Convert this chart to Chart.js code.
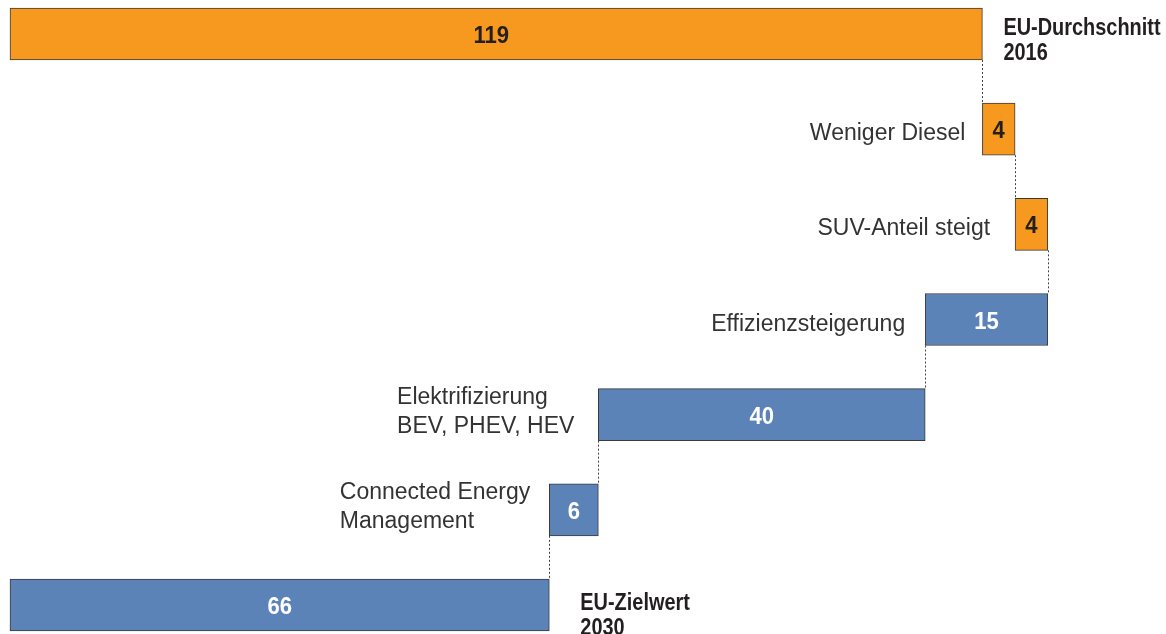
<!DOCTYPE html>
<html>
<head>
<meta charset="utf-8">
<script src="https://cdn.jsdelivr.net/npm/chart.js@4.4.0/dist/chart.umd.min.js"></script>
<style>
html,body{margin:0;padding:0;background:#fff;}
#wrap{position:relative;width:1166px;height:634px;}
</style>
</head>
<body>
<div id="wrap"><canvas id="c" width="1166" height="634"></canvas></div>
<script>
// Data
const categories = [
  ["EU-Durchschnitt", "2016"],
  ["Weniger Diesel"],
  ["SUV-Anteil steigt"],
  ["Effizienzsteigerung"],
  ["Elektrifizierung", "BEV, PHEV, HEV"],
  ["Connected Energy", "Management"],
  ["EU-Zielwert", "2030"]
];
const changes = [119, 4, 4, -15, -40, -6, 66];
const kinds = ["total", "step", "step", "step", "step", "step", "total"];
const valueLabels = ["119", "4", "4", "15", "40", "6", "66"];

const ORANGE = "#F7991F";
const BLUE = "#5B83B7";
const barColors = ["o", "o", "o", "b", "b", "b", "b"].map(c => c === "o" ? ORANGE : BLUE);
const valueColors = ["#231F20", "#231F20", "#231F20", "#fff", "#fff", "#fff", "#fff"];

// Build floating ranges
const ranges = [];
let run = 0;
changes.forEach((v, i) => {
  if (kinds[i] === "total") { ranges.push([0, v]); run = v; }
  else { const s = run; run = run + v; ranges.push([Math.min(s, run), Math.max(s, run)]); }
});

const labelFont = '23px "Liberation Sans", Arial, sans-serif';
const boldFont = 'bold 24px "Liberation Sans", Arial, sans-serif';
const valFont = 'bold 24px "Liberation Sans", Arial, sans-serif';

function condensedText(ctx, t, x, y, align, sx) {
  const w = ctx.measureText(t).width * sx;
  let x0 = x;
  if (align === "center") x0 = x - w / 2;
  else if (align === "right") x0 = x - w;
  ctx.save();
  ctx.translate(x0, y);
  ctx.scale(sx, 1);
  ctx.textAlign = "left";
  ctx.fillText(t, 0, 0);
  ctx.restore();
}

const annot = {
  id: "annot",
  afterDatasetsDraw(chart) {
    const ctx = chart.ctx;
    const meta = chart.getDatasetMeta(0);
    const xs = chart.scales.x;
    const gaps = [21, 17, 25, 20, 24, 19, 31];
    const totalBase = [1, 0, 0, 0, 0, 0, 5];
    ctx.save();
    // connectors
    ctx.strokeStyle = "#444";
    ctx.lineWidth = 1;
    ctx.setLineDash([2, 2]);
    for (let i = 0; i < meta.data.length - 1; i++) {
      const a = meta.data[i], b = meta.data[i + 1];
      const r = ranges[i], rn = ranges[i + 1];
      let edge = r.find(e => rn.includes(e) && e !== 0);
      if (edge === undefined) edge = r[1];
      const x = Math.round(xs.getPixelForValue(edge)) + 0.5;
      const y1 = a.y + a.height / 2, y2 = b.y - b.height / 2;
      ctx.beginPath(); ctx.moveTo(x, y1); ctx.lineTo(x, y2); ctx.stroke();
    }
    ctx.setLineDash([]);
    ctx.textBaseline = "alphabetic";
    meta.data.forEach((bar, i) => {
      const left = xs.getPixelForValue(ranges[i][0]);
      const right = xs.getPixelForValue(ranges[i][1]);
      // value label
      ctx.font = valFont;
      ctx.fillStyle = valueColors[i];
      const vx = i === 0 ? (left + right) / 2 - 5 : (left + right) / 2;
      condensedText(ctx, valueLabels[i], vx, bar.y + 9, "center", 0.92);
      const lines = categories[i];
      if (kinds[i] === "total") {
        ctx.font = boldFont;
        ctx.fillStyle = "#231F20";
        const x0 = right + gaps[i];
        lines.forEach((t, k) => condensedText(ctx, t, x0, bar.y + totalBase[i] + k * 25, "left", 0.83));
      } else {
        ctx.font = labelFont;
        ctx.fillStyle = "#333";
        ctx.textAlign = "left";
        const w = Math.max(...lines.map(t => ctx.measureText(t).width));
        const x0 = left - gaps[i] - w;
        if (lines.length === 1) {
          ctx.fillText(lines[0], x0, bar.y + 11);
        } else {
          lines.forEach((t, k) => ctx.fillText(t, x0, bar.y + 3.5 + (k - 0.5) * 29));
        }
      }
    });
    ctx.restore();
  }
};

new Chart(document.getElementById("c"), {
  type: "bar",
  data: {
    labels: categories.map(l => l.join(" ")),
    datasets: [{
      data: ranges,
      backgroundColor: barColors,
      borderColor: "#3a3a3a",
      borderWidth: 1,
      borderSkipped: false,
      barThickness: 52,
      clip: false
    }]
  },
  options: {
    indexAxis: "y",
    responsive: false,
    animation: false,
    layout: { padding: { left: 10, right: 12, top: 34, bottom: 29 } },
    plugins: { legend: { display: false }, tooltip: { enabled: false } },
    scales: {
      x: { type: "linear", min: 0, max: 140, display: false },
      y: { type: "category", offset: false, display: false }
    }
  },
  plugins: [annot]
});
</script>
</body>
</html>
